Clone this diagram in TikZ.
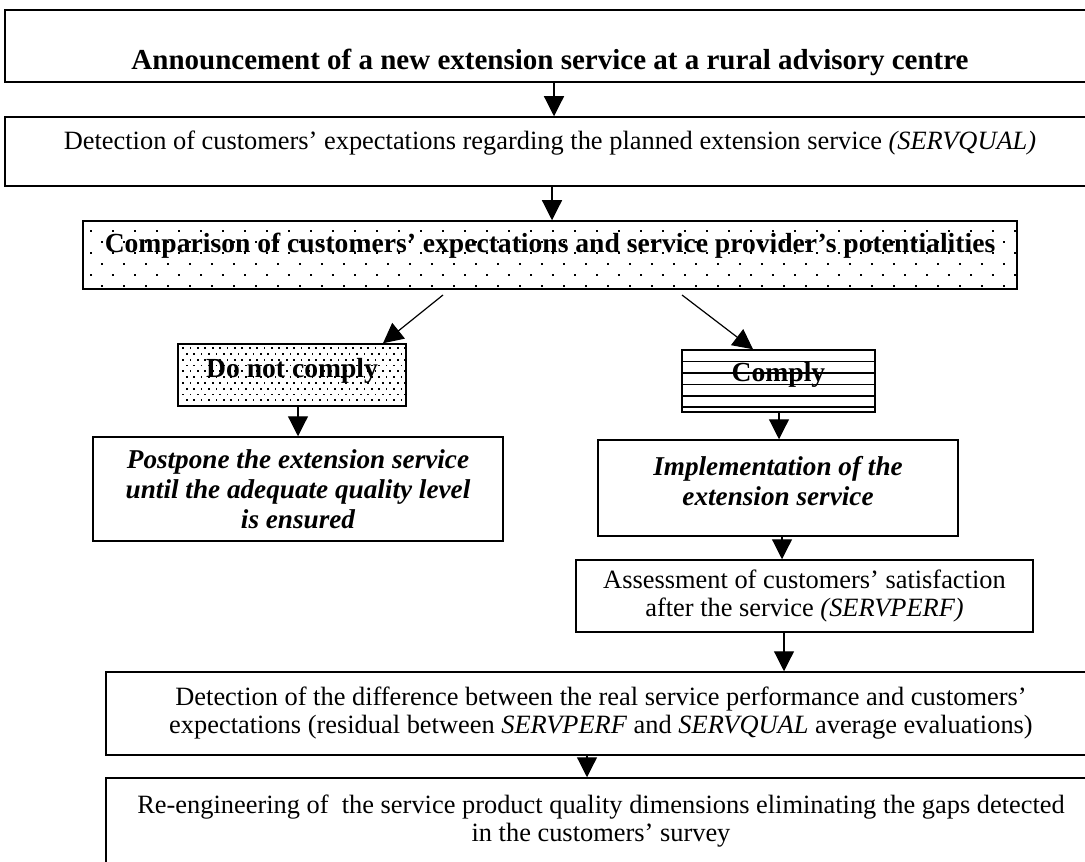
\documentclass[tikz,border=0pt]{standalone}
\usepackage{fontspec}
\setmainfont{Liberation Serif}
\usetikzlibrary{arrows.meta}
\begin{document}
\begin{tikzpicture}[x=0.5pt,y=-0.5pt,
  box/.style={draw, line width=0.75pt, inner sep=0pt, align=center},
  arr/.style={line width=0.6pt, -{Triangle[length=10pt,width=10pt]}},
  reg/.style={font=\fontsize{13.2}{14}\selectfont},
  bfb/.style={font=\fontsize{13.8}{15}\selectfont\bfseries},
  bib/.style={font=\fontsize{13.6}{15}\selectfont\bfseries\itshape}]
\useasboundingbox (0,0) rectangle (1085,861);
\clip (0,0) rectangle (1085,861);

% boxes
\node[box, minimum width=545pt, text height=30pt, text depth=6pt,
      font=\fontsize{14.5}{16}\selectfont\bfseries] (b1) at (550,46)
  {Announcement of a new extension service at a rural advisory centre};
\node[box, reg, minimum width=545pt, text height=16.5pt, text depth=18pt] (b2) at (550,151.5)
  {Detection of customers’ expectations regarding the planned extension service \textit{(SERVQUAL)}};
\node[box, bfb, minimum width=467pt, text height=15.5pt, text depth=18.5pt] (b3) at (550,255)
  {Comparison of customers’ expectations and service provider’s potentialities};
\node[box, bfb, minimum width=114pt, text height=16.5pt, text depth=14.5pt] (dnc) at (292,375)
  {Do not comply};
\node[box, bfb, minimum width=96.5pt, text height=15.5pt, text depth=15.5pt] (cmp) at (778.5,381)
  {Comply};
\node[box, bib, minimum width=205pt, minimum height=52pt] (pp) at (298,489)
  {Postpone the extension service\\until the adequate quality level\\is ensured};
\node[box, minimum width=180pt, minimum height=48pt] (impl) at (778,488) {};
\node[bib, align=center, inner sep=0pt] (implt) at (778,481)
  {Implementation of the\\extension service};
\node[box, reg, minimum width=228.5pt, minimum height=36pt] (as) at (804.5,596)
  {Assessment of customers’ satisfaction\\after the service \textit{(SERVPERF)}};
\node[box, reg, minimum width=495pt, minimum height=41.5pt] (det) at (601,713.5)
  {Detection of the difference between the real service performance and customers’\\expectations (residual between \textit{SERVPERF} and \textit{SERVQUAL} average evaluations)};
\node[box, reg, minimum width=495pt, minimum height=43pt] (re) at (601,821)
  {Re-engineering of\ \ the service product quality dimensions eliminating the gaps detected\\in the customers’ survey};

% sparse dots in comparison box
\begin{scope}
\clip (b3.south west) rectangle (b3.north east);
\foreach \r in {0,...,5} {
  \pgfmathsetmacro\yy{231+11*\r}
  \pgfmathsetmacro\xo{91+11*mod(\r,2)}
  \foreach \c in {0,...,42} {\fill (\xo+22*\c-1,\yy-1) rectangle ++(2,2);}
}
\end{scope}

% dense dots in do-not-comply box
\begin{scope}
\clip (dnc.south west) rectangle (dnc.north east);
\foreach \r in {0,...,10} {
  \pgfmathsetmacro\yy{348+5.8*\r}
  \pgfmathsetmacro\xo{183+3.7*mod(\r,2)}
  \foreach \c in {0,...,30} {\fill (\xo+7.4*\c-0.8,\yy-0.8) rectangle ++(1.7,1.7);}
}
\end{scope}

% horizontal lines in comply box
\foreach \yy in {361.5,373,384.5,396,407}
  \draw[line width=0.75pt] (cmp.west |- 0,\yy) -- (cmp.east |- 0,\yy);

% connectors
\coordinate (x1) at (554,0);
\coordinate (x2) at (552,0);
\coordinate (tl) at (443,295);
\coordinate (hl) at (383,0);
\coordinate (tr) at (682,295);
\coordinate (hr) at (753,0);
\coordinate (x5) at (298,0);
\coordinate (x6) at (779,0);
\coordinate (x7) at (782,0);
\coordinate (x8) at (784,0);
\coordinate (x9) at (587,0);

\draw[arr] (b1.south -| x1) -- (b2.north -| x1);
\draw[arr] (b2.south -| x2) -- (b3.north -| x2);
\draw[arr] (tl) -- (dnc.north -| hl);
\draw[arr] (tr) -- (cmp.north -| hr);
\draw[arr] (dnc.south -| x5) -- (pp.north -| x5);
\draw[arr] (cmp.south -| x6) -- (impl.north -| x6);
\draw[arr] (impl.south -| x7) -- (as.north -| x7);
\draw[arr] (as.south -| x8) -- (det.north -| x8);
\draw[arr] (det.south -| x9) -- (re.north -| x9);
\end{tikzpicture}
\end{document}
